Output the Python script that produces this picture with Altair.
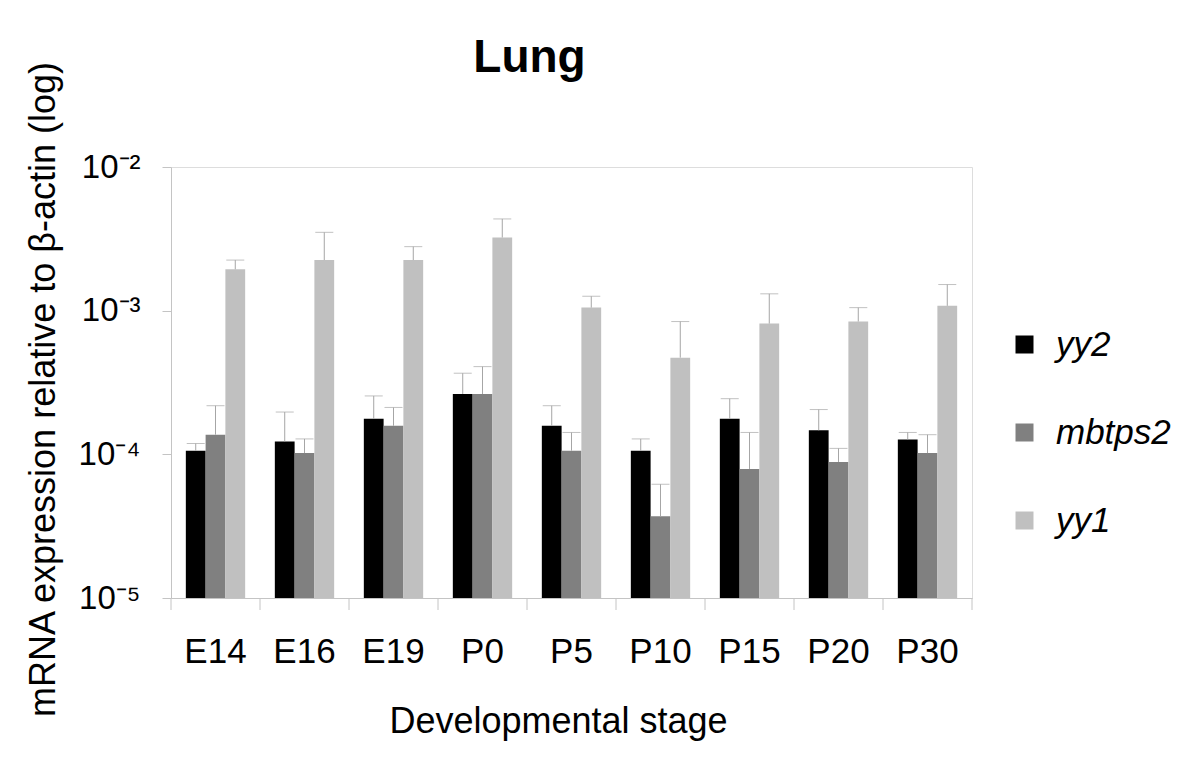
import altair as alt
import pandas as pd

# ---- data ----
stages = ["E14", "E16", "E19", "P0", "P5", "P10", "P15", "P20", "P30"]
genes = ["yy2", "mbtps2", "yy1"]
gene_colors = ["#000000", "#808080", "#c0c0c0"]

yy2_mean = [1.06e-4, 1.23e-4, 1.77e-4, 2.63e-4, 1.58e-4, 1.06e-4, 1.77e-4, 1.47e-4, 1.27e-4]
yy2_top = [1.19e-4, 1.97e-4, 2.55e-4, 3.67e-4, 2.18e-4, 1.28e-4, 2.44e-4, 2.05e-4, 1.42e-4]
mbtps2_mean = [1.37e-4, 1.02e-4, 1.58e-4, 2.63e-4, 1.06e-4, 3.71e-5, 7.91e-5, 8.85e-5, 1.02e-4]
mbtps2_top = [2.18e-4, 1.28e-4, 2.12e-4, 4.08e-4, 1.42e-4, 6.19e-5, 1.42e-4, 1.10e-4, 1.37e-4]
yy1_mean = [1.94e-3, 2.25e-3, 2.25e-3, 3.23e-3, 1.05e-3, 4.71e-4, 8.13e-4, 8.40e-4, 1.08e-3]
yy1_top = [2.25e-3, 3.51e-3, 2.79e-3, 4.35e-3, 1.26e-3, 8.40e-4, 1.31e-3, 1.05e-3, 1.52e-3]

ytick_values = [1e-5, 1e-4, 1e-3, 1e-2]
ytick_labels = ["10⁻⁵", "10⁻⁴", "10⁻³", "10⁻²"]
y_floor = 1e-5

rows = []
for gene, means, tops in zip(genes, [yy2_mean, mbtps2_mean, yy1_mean], [yy2_top, mbtps2_top, yy1_top]):
    for s, m, t in zip(stages, means, tops):
        rows.append({"stage": s, "gene": gene, "value": m, "err": t, "base": y_floor})
df = pd.DataFrame(rows)
stage_df = pd.DataFrame({"stage": stages})
last_df = pd.DataFrame({"stage": stages[-1:]})

# ---- style ----
FONT = "Liberation Sans"
AXIS_GRAY = "#c4c4c4"
ERR_GRAY = "#a6a6a6"
W, H = 801, 431

label_expr = f"'{ytick_labels[-1]}'"
for i in reversed(range(len(ytick_values) - 1)):
    label_expr = f"datum.value < {ytick_values[i] * 5} ? '{ytick_labels[i]}' : ({label_expr})"

x_scale = alt.Scale(paddingInner=0, paddingOuter=0)
x_axis = alt.Axis(
    title="Developmental stage", titleFontSize=36, titleFont=FONT, titleFontWeight="normal",
    titleX=387, titleY=134, titleAlign="center", titleBaseline="alphabetic",
    labelFontSize=35, labelFont=FONT, labelAngle=0, labelPadding=36, labelColor="black",
    ticks=False, tickSize=0, domainColor=AXIS_GRAY, domainWidth=1, grid=False,
)
y_scale = alt.Scale(type="log", domain=[ytick_values[0], ytick_values[-1]], nice=False)
y_axis = alt.Axis(
    values=ytick_values, labelExpr=label_expr, labelFontSize=33, labelFont=FONT,
    labelColor="black", labelPadding=22, tickSize=9, tickColor=AXIS_GRAY,
    domainColor=AXIS_GRAY, grid=False,
    title="mRNA expression relative to β-actin (log)", titleFontSize=36, titleFont=FONT,
    titleFontWeight="normal", titleAngle=270, titleX=-117, titleY=222,
    titleAlign="center", titleBaseline="alphabetic",
)

x_enc = alt.X("stage:N", sort=stages, scale=x_scale, axis=x_axis)
xoff_enc = alt.XOffset("gene:N", sort=genes, scale=alt.Scale(domain=genes, paddingInner=0, paddingOuter=0.75))

bars = alt.Chart(df).mark_bar().encode(
    x=x_enc,
    xOffset=xoff_enc,
    y=alt.Y("value:Q", scale=y_scale, axis=y_axis),
    y2="base:Q",
    color=alt.Color(
        "gene:N", sort=genes, scale=alt.Scale(domain=genes, range=gene_colors),
        legend=alt.Legend(
            title=None, orient="none", legendX=836, legendY=160, direction="vertical",
            symbolType="square", symbolSize=324, symbolStrokeWidth=0,
            labelFontSize=35, labelFont=FONT, labelFontStyle="italic", labelColor="black",
            labelOffset=14, rowPadding=52, padding=0, labelLimit=400,
        ),
    ),
)

err_rules = alt.Chart(df).mark_rule(color=ERR_GRAY, strokeWidth=1).encode(
    x=x_enc, xOffset=xoff_enc,
    y=alt.Y("value:Q", scale=y_scale, axis=y_axis),
    y2="err:Q",
)

caps = alt.Chart(df).mark_tick(color=ERR_GRAY, thickness=1, size=18, orient="horizontal").encode(
    x=x_enc, xOffset=xoff_enc,
    y=alt.Y("err:Q", scale=y_scale, axis=y_axis),
)

xticks = alt.Chart(stage_df).mark_rule(color=AXIS_GRAY, strokeWidth=1).encode(
    x=alt.X("stage:N", sort=stages, scale=x_scale, axis=x_axis, bandPosition=0),
    y=alt.value(H), y2=alt.value(H + 12),
)
xtick_end = alt.Chart(last_df).mark_rule(color=AXIS_GRAY, strokeWidth=1).encode(
    x=alt.X("stage:N", sort=stages, scale=x_scale, axis=x_axis, bandPosition=1),
    y=alt.value(H), y2=alt.value(H + 12),
)

chart = alt.layer(bars, err_rules, caps, xticks, xtick_end).properties(
    width=W, height=H,
    autosize=alt.AutoSizeParams(type="none"),
    padding={"left": 163, "top": 159, "right": 220, "bottom": 166},
    title=alt.TitleParams(
        "Lung", fontSize=46, font=FONT, fontWeight="bold", color="black",
        anchor="middle", frame="group", dx=-42, offset=10, dy=31,
    ),
).configure_view(stroke=None).configure(background="white")

chart.save("out.html", embed_options={"renderer": "svg", "actions": False})
